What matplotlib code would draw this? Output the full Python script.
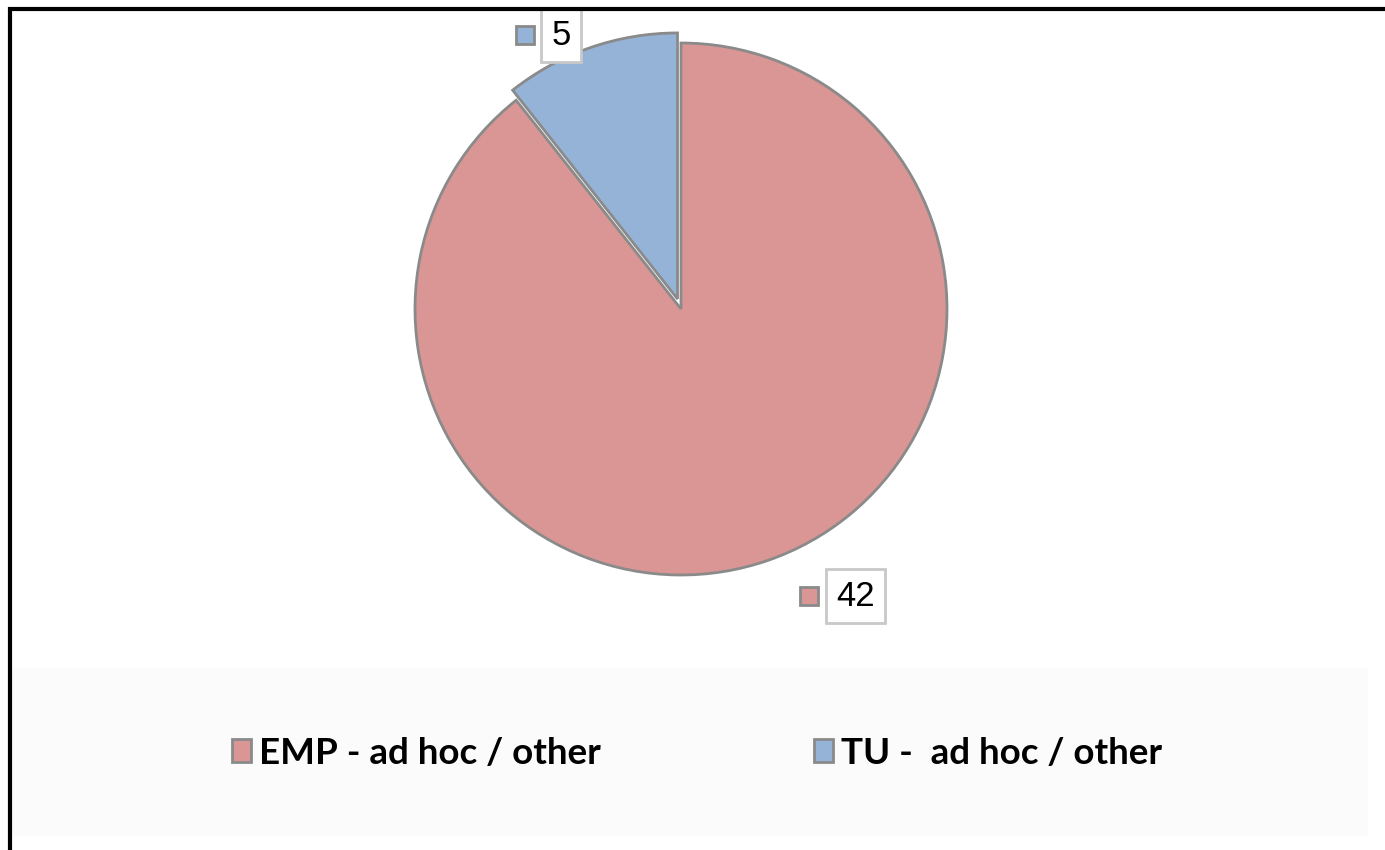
import numpy as np
import matplotlib.pyplot as plt
from matplotlib.lines import Line2D
from matplotlib.patches import Rectangle

# Data
labels = ['EMP - ad hoc / other', 'TU -  ad hoc / other']
values = [42, 5]
colors = ['#D99694', '#95B3D7']
edge = '#8a8a8a'

W, H = 1385, 850
fig = plt.figure(figsize=(W / 100, H / 100), dpi=100)

# pale legend band and black frame (top/left only)
fig.patches.append(Rectangle((12 / W, 1 - 836 / H), (1368 - 12) / W, (836 - 668) / H,
                             transform=fig.transFigure, facecolor='#fbfbfb', edgecolor='none', zorder=0))
fig.add_artist(Line2D([9.5 / W, 9.5 / W], [0, 1 - 7 / H], color='black', lw=3,
                      solid_capstyle='butt', transform=fig.transFigure))
fig.add_artist(Line2D([8 / W, 1], [1 - 8.5 / H, 1 - 8.5 / H], color='black', lw=3,
                      solid_capstyle='butt', transform=fig.transFigure))

# pie axes: center (681, 309) px, radius 266 px
cx, cy, r = 681, 309, 266
ax = fig.add_axes([(cx - r) / W, 1 - (cy + r) / H, 2 * r / W, 2 * r / H])
wedges, _ = ax.pie(values, colors=colors, startangle=90, counterclock=False,
                   explode=[0, 0.04], wedgeprops=dict(edgecolor=edge, linewidth=2))
ax.set_xlim(-1, 1)
ax.set_ylim(-1, 1)
ax.set_aspect('equal')
ax.axis('off')

# data labels with colour keys
label_pos = [(0.655, -1.079), (-0.45, 1.03)]
for v, c, (x, y) in zip(values, colors, label_pos):
    ax.text(x, y, str(v), ha='center', va='center', fontsize=25,
            family='Liberation Sans', color='black', clip_on=False, zorder=5,
            bbox=dict(boxstyle='square,pad=0.3', facecolor='white', edgecolor='#c8c8c8', linewidth=2))
    kx = x - (0.5 * len(str(v)) * 20 + 26) / r
    ax.plot([kx], [y], marker='s', markersize=13, markerfacecolor=c,
            markeredgecolor=edge, markeredgewidth=2, clip_on=False, zorder=5)

# legend
leg = fig.legend(wedges, labels, loc='center', bbox_to_anchor=(697 / W, 1 - 753 / H), ncol=2,
                 frameon=False, handlelength=0.5, handleheight=0.55, handletextpad=0.22,
                 columnspacing=5.8,
                 prop={'family': ['Lato', 'DejaVu Sans'], 'weight': 'bold', 'size': 26.5})

fig.savefig('out.png', dpi=100)
